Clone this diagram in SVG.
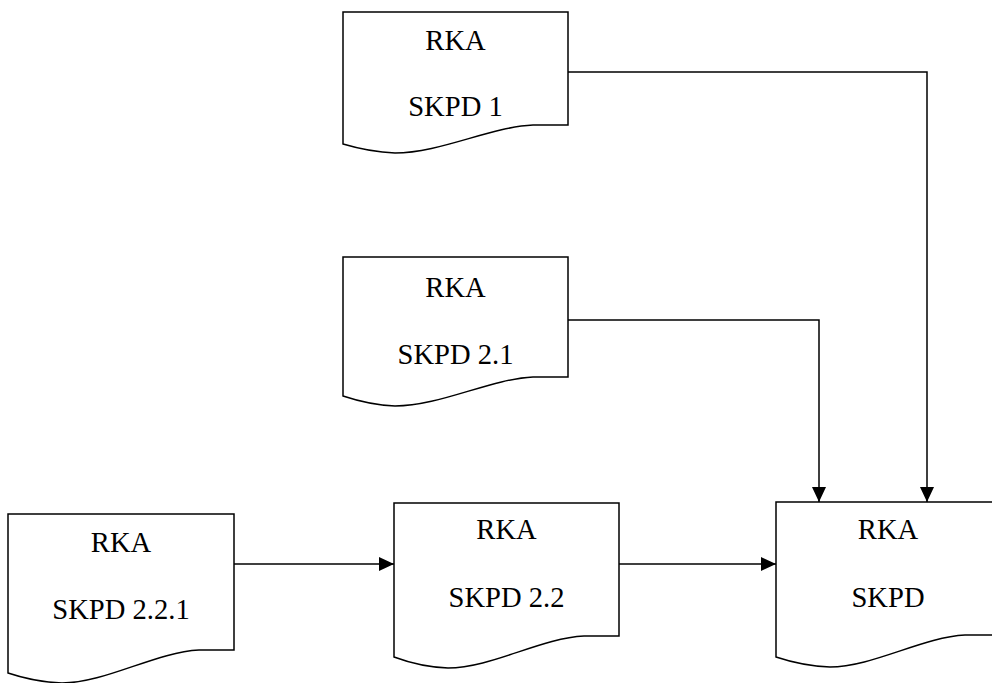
<svg xmlns="http://www.w3.org/2000/svg" width="992" height="683" viewBox="0 0 992 683">
<style>
.doc{fill:#fff;stroke:#000;stroke-width:1.5;stroke-linejoin:miter}
.lbl{font-family:"Liberation Serif","Times New Roman",serif;font-size:28.6px;fill:#000;text-anchor:middle}
.conn{fill:none;stroke:#000;stroke-width:1.5}
</style>
<defs>
<marker id="arr" markerUnits="userSpaceOnUse" markerWidth="15" markerHeight="14" refX="15" refY="7" orient="auto">
<path d="M0,0 L15,7 L0,14 Z" fill="#000"/>
</marker>
</defs>
<rect width="992" height="683" fill="#fff"/>
<g id="connectors">
<path class="conn" d="M568,72 H927 V502" marker-end="url(#arr)"/>
<path class="conn" d="M568,320 H819 V502" marker-end="url(#arr)"/>
<path class="conn" d="M234,564 H394" marker-end="url(#arr)"/>
<path class="conn" d="M619,564 H776" marker-end="url(#arr)"/>
</g>
<g id="skpd1">
<path class="doc" d="M343,12 H568 V125 H533 C490,127 440,153 395,153 Q370,152 343,144 Z"/>
<text class="lbl" x="455.5" y="50">RKA</text>
<text class="lbl" x="455.5" y="116">SKPD 1</text>
</g>
<g id="skpd21">
<path class="doc" d="M343,257 H568 V377 H533 C490,379 440,406 395,406 Q370,405 343,396 Z"/>
<text class="lbl" x="455.5" y="297">RKA</text>
<text class="lbl" x="455.5" y="364">SKPD 2.1</text>
</g>
<g id="skpd221">
<path class="doc" d="M8,514 H234 V650 H199 C156,652 105,683 62,683 Q35,682 8,673 Z"/>
<text class="lbl" x="121" y="552">RKA</text>
<text class="lbl" x="121" y="619">SKPD 2.2.1</text>
</g>
<g id="skpd22">
<path class="doc" d="M394,503 H619 V636 H584 C541,638 491,668 448,668 Q421,667 394,657 Z"/>
<text class="lbl" x="506.5" y="539">RKA</text>
<text class="lbl" x="506.5" y="607">SKPD 2.2</text>
</g>
<g id="skpd">
<path class="doc" d="M776,502 H1000 V635 H965 C923,637 872,667 830,667 Q803,666 776,657 Z"/>
<text class="lbl" x="888" y="539">RKA</text>
<text class="lbl" x="888" y="607">SKPD</text>
</g>
</svg>
